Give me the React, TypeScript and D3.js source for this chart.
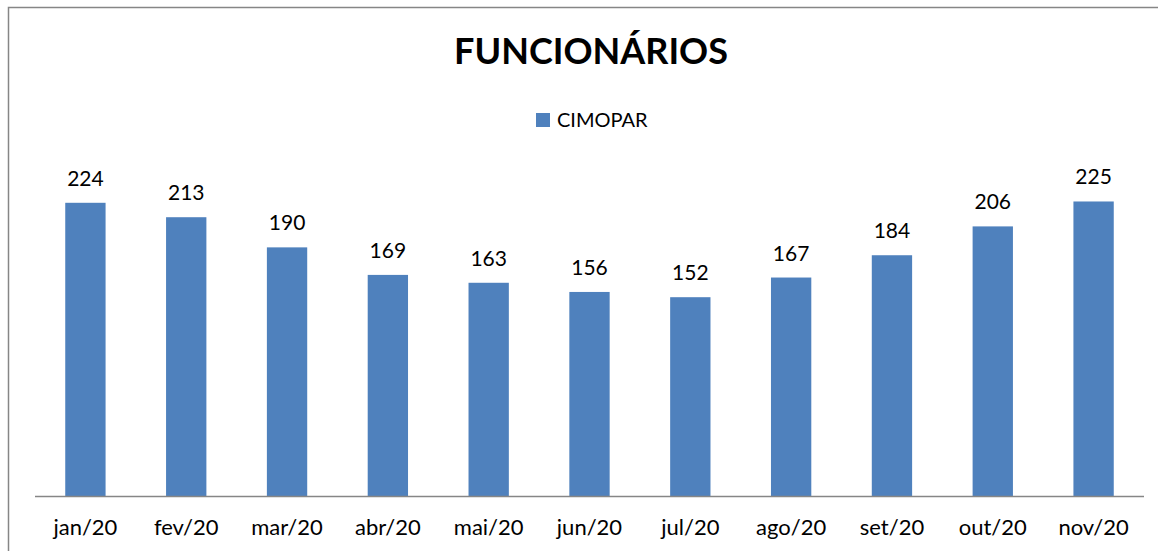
import React from 'react';
import * as d3 from 'd3';

const months = ['jan/20', 'fev/20', 'mar/20', 'abr/20', 'mai/20', 'jun/20', 'jul/20', 'ago/20', 'set/20', 'out/20', 'nov/20'];
const employees = [224, 213, 190, 169, 163, 156, 152, 167, 184, 206, 225];
const seriesName = 'CIMOPAR';
const title = 'FUNCIONÁRIOS';

const W = 1158;
const H = 551;
const FONT = 'Lato, "Open Sans", sans-serif';
const BAR = '#4F81BD';

export default function App() {
  const x = d3.scaleBand<string>()
    .domain(months)
    .range([35, 1144])
    .paddingInner(0.6)
    .paddingOuter(0.3);

  const y = d3.scaleLinear()
    .domain([0, 250])
    .range([496.5, 168.7]);

  return (
    <svg
      width={W}
      height={H}
      style={{ position: 'absolute', left: 0, top: 0, background: '#fff' }}
    >
      <rect x={8.5} y={7.5} width={W + 20} height={H + 20} fill="#fff" stroke="#868686" strokeWidth={1.5} />

      <text x={591} y={64} textAnchor="middle" fontFamily={FONT} fontWeight={700} fontSize={36} fill="#000">
        {title}
      </text>

      <rect x={536} y={113} width={14} height={14} fill={BAR} />
      <text x={557} y={127} fontFamily={FONT} fontSize={20} fill="#000">{seriesName}</text>

      {employees.map((v, i) => {
        const m = months[i];
        const bx = x(m) ?? 0;
        return (
          <g key={m}>
            <rect x={bx} y={y(v)} width={x.bandwidth()} height={y(0) - y(v)} fill={BAR} />
            <text
              x={bx + x.bandwidth() / 2}
              y={y(v) - 17}
              textAnchor="middle"
              fontFamily={FONT}
              fontSize={21}
              fill="#000"
            >
              {v}
            </text>
            <text
              x={bx + x.bandwidth() / 2}
              y={535}
              textAnchor="middle"
              fontFamily={FONT}
              fontSize={22}
              fill="#000"
            >
              {m}
            </text>
          </g>
        );
      })}

      <line x1={35} x2={1144} y1={y(0)} y2={y(0)} stroke="#868686" strokeWidth={1.5} />
    </svg>
  );
}
